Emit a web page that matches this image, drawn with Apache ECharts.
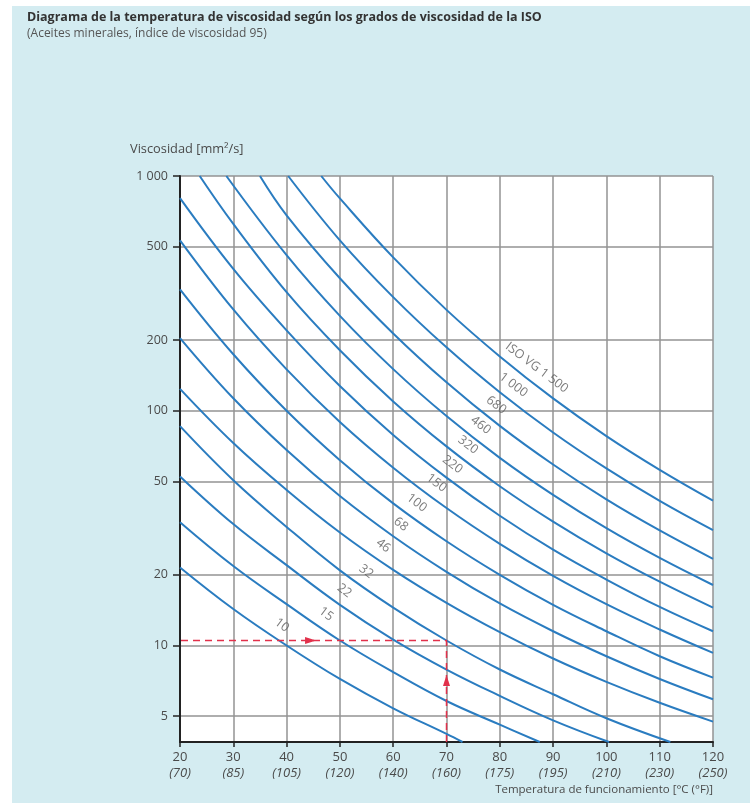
<!DOCTYPE html>
<html><head><meta charset="utf-8">
<script src="https://cdn.jsdelivr.net/npm/echarts@6/dist/echarts.min.js"></script>
<style>
html,body{margin:0;padding:0;background:#fff;width:750px;height:803px;overflow:hidden;}
#c{position:absolute;left:12px;top:6px;width:738px;height:797px;background:#d4ecf1;}
</style></head><body><div id="c"></div>
<script>
// ---- data ----
const temps = [20, 30, 40, 50, 60, 70, 80, 90, 100, 110, 120];
const tempsF = ['70', '85', '105', '120', '140', '160', '175', '195', '210', '230', '250'];
const yTicks = [5, 10, 20, 50, 100, 200, 500, 1000];
const yMin = 3.88, yMax = 1000;
const grades = ['10', '15', '22', '32', '46', '68', '100', '150', '220', '320', '460', '680', '1 000', 'ISO VG 1 500'];

// [temperature °C, viscosity mm²/s]
const vg10   = [[20,21.5],[30,14.3],[40,10],[50,7.2],[60,5.4],[70,4.2],[73,3.88]];
const vg15   = [[20,33.5],[30,21.8],[40,15],[50,10.5],[60,7.7],[70,5.8],[80,4.6],[87.5,3.88]];
const vg22   = [[20,52.5],[30,32.9],[40,22],[50,14.9],[60,10.6],[70,7.9],[80,6.1],[90,4.8],[100.5,3.88]];
const vg32   = [[20,86],[30,50.6],[40,32],[50,20.9],[60,14.5],[70,10.5],[80,7.9],[90,6.2],[100,4.9],[112,3.88]];
const vg46   = [[20,124],[30,72.9],[40,46],[50,30.3],[60,21],[70,15.2],[80,11.4],[90,8.8],[100,7.0],[110,5.7],[120,4.74]];
const vg68   = [[20,204],[30,113],[40,68],[50,43.3],[60,29.2],[70,20.6],[80,15.1],[90,11.5],[100,9.0],[110,7.2],[120,5.9]];
const vg100  = [[20,329],[30,174],[40,100],[50,61.6],[60,40.3],[70,27.8],[80,20],[90,14.9],[100,11.5],[110,9.0],[120,7.3]];
const vg150  = [[20,532],[30,270],[40,150],[50,89.6],[60,57.2],[70,38.5],[80,27.1],[90,19.8],[100,15],[110,11.7],[120,9.3]];
const vg220  = [[20,805],[30,402],[40,220],[50,127.5],[60,78.9],[70,51.9],[80,35.7],[90,25.6],[100,19.1],[110,14.6],[120,11.5]];
const vg320  = [[23.7,1000],[30,625],[40,320],[50,181],[60,109.6],[70,70.5],[80,47.7],[90,33.7],[100,24.7],[110,18.7],[120,14.5]];
const vg460  = [[28.7,1000],[40,460],[50,253.6],[60,150.4],[70,94.9],[80,63],[90,43.8],[100,31.6],[110,23.6],[120,18.1]];
const vg680  = [[35,1000],[40,680],[50,366.7],[60,213.3],[70,132.1],[80,86.2],[90,59],[100,41.9],[110,30.9],[120,23.4]];
const vg1000 = [[40.3,1000],[50,532],[60,304.8],[70,186.2],[80,119.9],[90,80.8],[100,56.8],[110,41.3],[120,31]];
const vg1500 = [[46.5,1000],[50,802.5],[60,450],[70,269],[80,170.4],[90,112.9],[100,78],[110,56],[120,41.4]];
const curves = [vg10, vg15, vg22, vg32, vg46, vg68, vg100, vg150, vg220, vg320, vg460, vg680, vg1000, vg1500];

// temperature at which each curve label sits
const labelTemps = [38.0, 46.3, 49.7, 53.8, 57.0, 60.3, 63.3, 67.0, 70.0, 72.9, 75.3, 78.2, 81.4, 85.8];

// worked example (red dashed)
const exampleTemp = 70, exampleVisc = 10.5;
const arrowUpVisc = 7.1, arrowRightTemp = 44.5;

// ---- chart ----
const L = v => Math.log10(v);
const FONT = '"Open Sans", "Noto Sans", sans-serif';
const TXT = '#4a4a4a';
const BLUE = '#2a7cc0';
const RED = '#e2314b';
const fmtK = n => String(n).replace(/\B(?=(\d{3})+(?!\d))/g, ' ');
const tickLogs = yTicks.map(L);

function logAt(d, t) {
  for (let i = 0; i < d.length - 1; i++) {
    if (t >= d[i][0] && t <= d[i + 1][0]) {
      const f = (t - d[i][0]) / (d[i + 1][0] - d[i][0]);
      return L(d[i][1]) + f * (L(d[i + 1][1]) - L(d[i][1]));
    }
  }
  return L(d[d.length - 1][1]);
}

const chart = echarts.init(document.getElementById('c'), null, {renderer: 'canvas'});

const series = curves.map((d, i) => ({
  type: 'line', name: grades[i],
  data: d.map(p => [p[0], L(p[1])]),
  smooth: 0.4,
  symbol: 'none', silent: true, clip: true, z: 3,
  lineStyle: {color: BLUE, width: 2}
}));

series.push({
  type: 'scatter', silent: true, z: 6,
  symbolSize: 1, itemStyle: {color: 'rgba(0,0,0,0)'},
  data: labelTemps.map((t, i) => ({
    value: [t, logAt(curves[i], t)],
    label: {formatter: grades[i]}
  })),
  label: {show: true, position: 'inside', rotate: -37, offset: [-3, -14],
    color: '#5a5a5a', fontSize: 12.5, fontFamily: FONT}
});

series.push({
  type: 'line', silent: true, z: 5, symbol: 'none',
  data: [[exampleTemp, L(yMin)], [exampleTemp, L(exampleVisc)], [temps[0], L(exampleVisc)]],
  lineStyle: {color: RED, width: 1.5, type: [7, 5]},
  markPoint: {
    silent: true, symbol: 'triangle', itemStyle: {color: RED}, label: {show: false},
    data: [
      {coord: [exampleTemp, L(arrowUpVisc)], symbolSize: [7, 11], symbolRotate: 0},
      {coord: [arrowRightTemp, L(exampleVisc)], symbolSize: [7, 11], symbolRotate: -90}
    ]
  }
});

chart.setOption({
  animation: false,
  backgroundColor: 'transparent',
  grid: {left: 168, top: 170, right: 37, bottom: 61, show: true, backgroundColor: '#ffffff', borderWidth: 0},
  xAxis: {
    type: 'value', min: temps[0], max: temps[temps.length - 1], interval: 10,
    axisLine: {show: true, onZero: false, lineStyle: {color: '#222', width: 2}},
    axisTick: {show: true, length: 5, lineStyle: {color: '#222', width: 1.5}},
    splitLine: {show: true, lineStyle: {color: '#939393', width: 1.5}},
    axisLabel: {
      margin: 7, color: TXT, fontSize: 13, fontFamily: FONT, lineHeight: 16,
      formatter: v => { const i = temps.indexOf(v); return v + '\n{f|(' + tempsF[i] + ')}'; },
      rich: {f: {fontStyle: 'italic', fontSize: 13, color: TXT, fontFamily: FONT, lineHeight: 16}}
    }
  },
  yAxis: {
    type: 'value', min: L(yMin), max: L(yMax),
    axisLine: {show: true, onZero: false, lineStyle: {color: '#222', width: 2}},
    axisTick: {show: true, length: 7, customValues: tickLogs, lineStyle: {color: '#222', width: 1.5}},
    splitLine: {show: true, lineStyle: {color: '#939393', width: 1.5}},
    axisLabel: {customValues: tickLogs, margin: 12, color: TXT, fontSize: 12.5, fontFamily: FONT,
      formatter: v => fmtK(Math.round(Math.pow(10, v)))}
  },
  graphic: [
    {type: 'text', left: 15, top: 5, silent: true, style: {
      text: 'Diagrama de la temperatura de viscosidad según los grados de viscosidad de la ISO',
      fill: '#333', font: 'bold 12.5px ' + FONT}},
    {type: 'text', left: 15, top: 22, silent: true, style: {
      text: '(Aceites minerales, índice de viscosidad 95)',
      fill: '#555', font: '12px ' + FONT}},
    {type: 'text', left: 118, top: 137, silent: true, style: {
      text: 'Viscosidad [mm²/s]', fill: TXT, font: '12.8px ' + FONT}},
    {type: 'text', right: 37, top: 778, silent: true, style: {
      text: 'Temperatura de funcionamiento [°C (°F)]', fill: TXT, font: '11.5px ' + FONT}}
  ],
  series: series
});
</script></body></html>
